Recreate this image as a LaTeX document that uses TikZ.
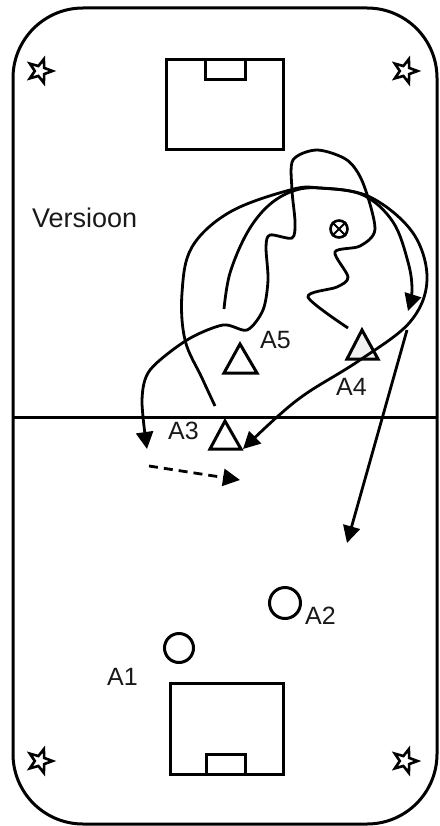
\documentclass[tikz,border=0pt]{standalone}
\usepackage{fontspec}
\setmainfont{Liberation Sans}
\usetikzlibrary{arrows.meta,shapes.geometric}
\tikzset{
  line/.style={line width=3pt,line join=miter,black},
  thin curve/.style={line width=2.8pt,black},
  tip/.style={-{Triangle[length=17pt,width=17pt]}},
  player/.style={line width=3pt,draw=black,fill=white},
  label/.style={anchor=base west,inner sep=0pt,font=\fontsize{25}{30}\selectfont,text=black!90},
  starmark/.style={star,star points=5,star point ratio=2.4,minimum size=25pt,inner sep=0pt,draw=black,line width=2.6pt,fill=white,rotate=-90},
}
\begin{document}
\begin{tikzpicture}[x=1pt,y=-1pt]
\useasboundingbox (0,0) rectangle (439,826);
\fill[white] (0,0) rectangle (439,826);
% field
\draw[line,rounded corners=70pt] (13,8) rectangle (437,824);
\draw[line] (13,417) -- (437,417);
% goals
\draw[line] (166,60) rectangle (283,150);
\draw[line] (205,60) rectangle (245,80);
\draw[line] (170,683) rectangle (283,774);
\draw[line] (206,754) rectangle (245,774);
% corner stars
\node[starmark] (s1) at (40,71) {};
\node[starmark] (s2) at (405,71) {};
\node[starmark] (s3) at (40,761) {};
\node[starmark] (s4) at (405,761) {};
% text
\node[label,font=\fontsize{27}{30}\selectfont] (ver) at (32,227) {Versioon};
\node[label] (la5) at (260,348) {A5};
\node[label] (la4) at (336,395) {A4};
\node[label] (la3) at (168,439) {A3};
\node[label] (la2) at (305,624) {A2};
\node[label] (la1) at (107,685) {A1};
% players
\draw[player] (240,344) -- (224,373) -- (257,373) -- cycle;
\draw[player,fill=black!6] (362,330) -- (347,359) -- (378,359) -- cycle;
\draw[player] (225,421) -- (210,449) -- (241,449) -- cycle;
\node[circle,draw=black,line width=3pt,minimum size=29pt,inner sep=0pt] (a1) at (179,648) {};
\node[circle,draw=black,line width=3pt,minimum size=31pt,inner sep=0pt] (a2) at (285,603) {};
% curves
\draw[thin curve,tip] plot[smooth,tension=0.6] coordinates {(224,309) (230,273) (247,233) (268,206) (293,191) (320,188) (363,195) (393,222) (408,262) (412,290) (408,311)};
\draw[thin curve,tip] plot[smooth,tension=0.6] coordinates {(215,406) (202,378) (185,340) (182,293) (192,247) (230,212) (290,190) (320,188) (370,197) (413,233) (427,280) (410,322) (360,360) (307,393) (277,417) (243,449)};
\draw[thin curve,tip] plot[smooth,tension=0.5] coordinates {(348,328) (308,297) (337,287) (348,277) (335,252) (360,246) (375,229) (363,183) (347,160) (317,150) (293,160) (292,190) (295,222) (292,238) (270,235) (266,247) (268,280) (263,310) (247,330) (223,325) (187,340) (150,370) (142,400) (147,449)};
\draw[thin curve,tip] (407,330) -- (347,543);
\draw[thin curve,tip,dash pattern=on 9pt off 6pt] (149,466) -- (240,480);
% ball
\node[circle,draw=black,line width=2.6pt,minimum size=17pt,inner sep=0pt] (ball) at (339,229) {};
\draw[line width=2pt] (ball.north west) -- (ball.south east) (ball.north east) -- (ball.south west);
\end{tikzpicture}
\end{document}
